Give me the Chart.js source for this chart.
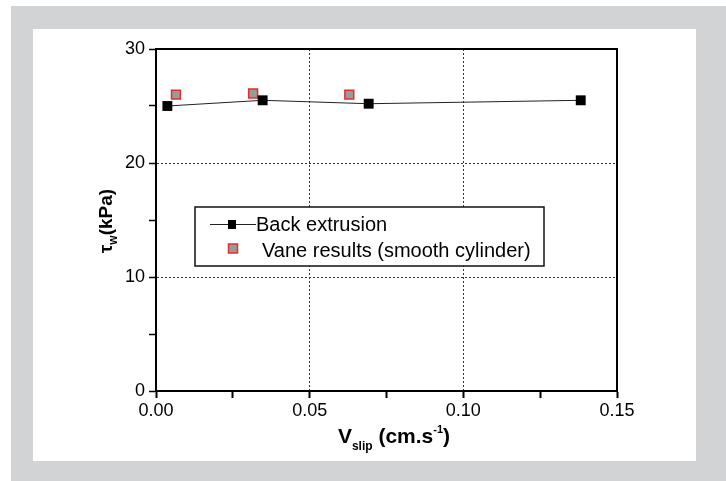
<!DOCTYPE html>
<html lang="en">
<head>
    <meta charset="UTF-8">
    <title>Wall shear stress vs slip velocity</title>
    <script src="https://cdn.jsdelivr.net/npm/chart.js@4.4.0/dist/chart.umd.min.js"></script>
    <style>
        body {
            margin: 0;
            background: #ffffff;
            font-family: 'Liberation Sans', Arial, sans-serif;
        }
        .frame-grey {
            position: absolute;
            left: 11px; top: 6px;
            width: 715px; height: 475px;
            background: #d2d3d5;
        }
        .frame-white {
            position: absolute;
            left: 33px; top: 29px;
            width: 663px; height: 432px;
            background: #ffffff;
        }
        #slipChart {
            position: absolute;
            left: 0; top: 0;
        }
    </style>
</head>
<body>
    <div class="frame-grey"></div>
    <div class="frame-white"></div>
    <canvas id="slipChart" width="726" height="481"></canvas>

    <script>
        // --- data ---
        const backExtrusionX = [0.0037, 0.0347, 0.0692, 0.1382];
        const backExtrusionY = [25.0, 25.5, 25.2, 25.5];
        const vaneX = [0.0065, 0.0316, 0.0629];
        const vaneY = [26.0, 26.1, 26.0];
        const xTickLabels = ['0.00', '0.05', '0.10', '0.15'];
        const yTickLabels = ['0', '10', '20', '30'];
        const seriesNames = ['Back extrusion', 'Vane results (smooth cylinder)'];

        const FONT = "'Liberation Sans', Arial, sans-serif";
        Chart.defaults.font.family = FONT;
        Chart.defaults.color = '#000';

        const toPoints = (xs, ys) => xs.map((x, i) => ({ x: x, y: ys[i] }));

        // which tick gets a label / dotted grid line
        function xMajor(v) { return Math.round(v * 1000) % 50 === 0; }
        function yMajor(v) { return Math.round(v) % 10 === 0; }
        function xLabel(v) {
            const s = v.toFixed(2);
            return xTickLabels.includes(s) ? s : '';
        }
        function yLabel(v) {
            const s = String(Math.round(v));
            return yMajor(v) && yTickLabels.includes(s) ? s : '';
        }

        // box around the plot (top and right sides)
        const plotFrame = {
            id: 'plotFrame',
            afterDatasetsDraw(chart) {
                const { ctx, chartArea: a } = chart;
                ctx.save();
                ctx.strokeStyle = '#000';
                ctx.lineWidth = 2;
                ctx.strokeRect(a.left, a.top, a.right - a.left, a.bottom - a.top);
                ctx.restore();
            }
        };

        // draws runs of text with sub/superscripts
        function drawRuns(ctx, runs, x, y, align) {
            let total = 0;
            runs.forEach(r => { ctx.font = r.font; total += ctx.measureText(r.t).width; });
            let cx = align === 'center' ? x - total / 2 : x;
            runs.forEach(r => {
                ctx.font = r.font;
                ctx.fillText(r.t, cx, y + (r.dy || 0));
                cx += ctx.measureText(r.t).width;
            });
        }

        const axisTitles = {
            id: 'axisTitles',
            afterDraw(chart) {
                const { ctx, chartArea: a } = chart;
                ctx.save();
                ctx.fillStyle = '#000';
                ctx.textBaseline = 'alphabetic';
                ctx.textAlign = 'left';
                const big = 'bold 21px ' + FONT;
                drawRuns(ctx, [
                    { t: 'V', font: big },
                    { t: 'slip', font: 'bold 12px ' + FONT, dy: 7 },
                    { t: ' (cm.s', font: big },
                    { t: '-1', font: 'bold 11px ' + FONT, dy: -10 },
                    { t: ')', font: big }
                ], 394, 443, 'center');

                ctx.translate(112, (a.top + a.bottom) / 2 + 1);
                ctx.rotate(-Math.PI / 2);
                drawRuns(ctx, [
                    { t: 'τ', font: 'bold 19px ' + FONT },
                    { t: 'w', font: 'bold 12px ' + FONT, dy: 5 },
                    { t: '(kPa)', font: 'bold 19px ' + FONT }
                ], 0, 0, 'center');
                ctx.restore();
            }
        };

        // boxed legend inside the plot
        const boxLegend = {
            id: 'boxLegend',
            afterDraw(chart) {
                const { ctx, chartArea: a } = chart;
                const ds = chart.data.datasets;
                const bx = a.left + 39, by = a.top + 158, bw = 349, bh = 59;
                ctx.save();
                ctx.fillStyle = '#fff';
                ctx.fillRect(bx, by, bw, bh);
                ctx.strokeStyle = '#111';
                ctx.lineWidth = 1.5;
                ctx.strokeRect(bx, by, bw, bh);

                // row 1: line + square
                ctx.strokeStyle = ds[0].borderColor;
                ctx.lineWidth = 1;
                ctx.beginPath();
                ctx.moveTo(bx + 15, by + 17.5);
                ctx.lineTo(bx + 61, by + 17.5);
                ctx.stroke();
                ctx.fillStyle = ds[0].pointBackgroundColor;
                ctx.fillRect(bx + 33, by + 13, 8, 9);

                // row 2: grey square, red edge
                ctx.fillStyle = ds[1].pointBackgroundColor;
                ctx.strokeStyle = ds[1].pointBorderColor;
                ctx.lineWidth = 1.5;
                ctx.fillRect(bx + 33.5, by + 37, 9, 9);
                ctx.strokeRect(bx + 33.5, by + 37, 9, 9);

                ctx.fillStyle = '#000';
                ctx.font = '20px ' + FONT;
                ctx.textAlign = 'left';
                ctx.textBaseline = 'alphabetic';
                ctx.fillText(ds[0].label, bx + 61, by + 24);
                ctx.fillText(ds[1].label, bx + 67, by + 50);
                ctx.restore();
            }
        };

        new Chart(document.getElementById('slipChart'), {
            type: 'scatter',
            data: {
                datasets: [
                    {
                        label: seriesNames[0],
                        data: toPoints(backExtrusionX, backExtrusionY),
                        showLine: true,
                        borderColor: '#222',
                        borderWidth: 1,
                        pointStyle: 'rect',
                        pointRadius: 7,
                        pointBackgroundColor: '#000',
                        pointBorderColor: '#000',
                        pointBorderWidth: 0
                    },
                    {
                        label: seriesNames[1],
                        data: toPoints(vaneX, vaneY),
                        showLine: false,
                        pointStyle: 'rect',
                        pointRadius: 6.3,
                        pointBackgroundColor: '#9a9a9a',
                        pointBorderColor: '#e0302e',
                        pointBorderWidth: 1.5
                    }
                ]
            },
            options: {
                responsive: false,
                devicePixelRatio: 1,
                animation: false,
                layout: { padding: { left: 86, right: 109, top: 49, bottom: 50 } },
                plugins: {
                    legend: { display: false },
                    tooltip: { enabled: false }
                },
                scales: {
                    x: {
                        type: 'linear',
                        min: 0,
                        max: 0.15,
                        afterFit: s => { s.height = 40; },
                        border: { display: true, color: '#000', width: 2, dash: [2, 2] },
                        grid: {
                            color: c => (xMajor(c.tick.value) && c.tick.value > 0 && c.tick.value < 0.15) ? '#333' : 'rgba(0,0,0,0)',
                            lineWidth: 1,
                            tickColor: '#000',
                            tickWidth: 2,
                            tickLength: 7,
                            tickBorderDash: []
                        },
                        ticks: {
                            stepSize: 0.025,
                            autoSkip: false,
                            maxRotation: 0,
                            padding: 2,
                            font: { size: 18 },
                            color: '#000',
                            callback: v => xLabel(v)
                        }
                    },
                    y: {
                        type: 'linear',
                        min: 0,
                        max: 30,
                        afterFit: s => { s.width = 70; },
                        border: { display: true, color: '#000', width: 2, dash: [2, 2] },
                        grid: {
                            color: c => (yMajor(c.tick.value) && c.tick.value > 0 && c.tick.value < 30) ? '#333' : 'rgba(0,0,0,0)',
                            lineWidth: 1,
                            tickColor: '#000',
                            tickWidth: 1.5,
                            tickLength: 7,
                            tickBorderDash: []
                        },
                        ticks: {
                            stepSize: 5,
                            autoSkip: false,
                            padding: 4,
                            font: { size: 18 },
                            color: '#000',
                            callback: v => yLabel(v)
                        }
                    }
                }
            },
            plugins: [plotFrame, axisTitles, boxLegend]
        });
    </script>
</body>
</html>
